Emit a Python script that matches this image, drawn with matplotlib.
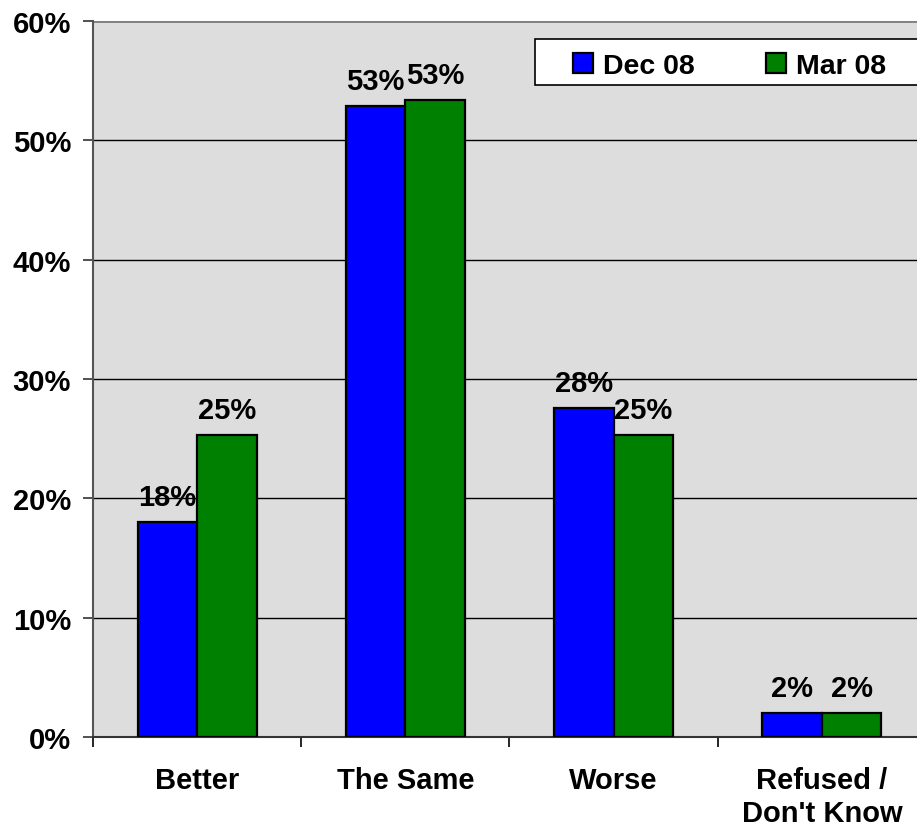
import matplotlib
matplotlib.use("Agg")
import matplotlib.pyplot as plt
from matplotlib.patches import Rectangle
import numpy as np

categories = ["Better", "The Same", "Worse", "Refused /\nDon't Know"]
dec08 = [18.0, 52.9, 27.6, 2.0]
mar08 = [25.3, 53.4, 25.3, 2.0]
series_names = ["Dec 08", "Mar 08"]
yticks = [0, 10, 20, 30, 40, 50, 60]

plt.rcParams['font.family'] = ['Liberation Sans', 'DejaVu Sans']
plt.rcParams['font.weight'] = 'bold'
FS = 21
plt.rcParams['font.size'] = FS

W, H = 917, 829
fig = plt.figure(figsize=(W / 100, H / 100), dpi=100)
fig.patch.set_facecolor('white')
ax = fig.add_axes([93 / W, 1 - 738 / H, 833 / W, (738 - 22) / H])
ax.set_facecolor('#DDDDDD')

x = np.arange(len(categories)) + 0.5
bw = 0.286
b1 = ax.bar(x - bw / 2, dec08, bw, color='#0000FF', edgecolor='black', linewidth=1.6,
            label=series_names[0], zorder=3)
b2 = ax.bar(x + bw / 2, mar08, bw, color='#008000', edgecolor='black', linewidth=1.6,
            label=series_names[1], zorder=3)

for bars, vals in ((b1, dec08), (b2, mar08)):
    for rect, v in zip(bars, vals):
        ax.annotate(f"{v:.0f}%", (rect.get_x() + rect.get_width() / 2, v),
                    xytext=(0, 8), textcoords='offset points',
                    ha='center', va='bottom', fontsize=FS, fontweight='bold', zorder=4)

ax.set_xlim(0, len(categories))
ax.set_ylim(0, 60)
ax.set_yticks(yticks)
ax.set_yticklabels([f"{t}%" for t in yticks])
ax.yaxis.grid(True, color='black', linewidth=1)
ax.set_axisbelow(True)

ax.set_xticks(x)
ax.set_xticklabels(categories, linespacing=1.2)
ax.set_xticks(np.arange(len(categories) + 1), minor=True)
ax.tick_params(axis='x', which='major', length=0, pad=21, labelsize=FS)
ax.tick_params(axis='x', which='minor', length=7.2, width=1.2, direction='out', color='black')
ax.tick_params(axis='y', length=7.2, width=1.2, direction='out', pad=8.6, labelsize=FS, color='#333333')

for s in ('top', 'right'):
    ax.spines[s].set_visible(False)
ax.spines['left'].set_color('#555555')
ax.spines['left'].set_linewidth(1.5)
ax.spines['bottom'].set_color('#333333')
ax.spines['bottom'].set_linewidth(1.5)
ax.axhline(60, color='#808080', linewidth=2, zorder=2)

# legend frame
frame = Rectangle((535 / W, 1 - 86 / H), 420 / W, 46 / H, transform=fig.transFigure,
                  facecolor='white', edgecolor='black', linewidth=1.2, zorder=5)
fig.patches.append(frame)
leg = fig.legend(handles=[b1, b2], loc='center left', bbox_to_anchor=(559 / W, 1 - 67 / H),
                 ncol=2, frameon=False, fontsize=20.5, borderpad=0, handlelength=0.7,
                 handleheight=0.7, handletextpad=0.35, columnspacing=2.5)
leg.set_zorder(6)

fig.savefig("out.png", dpi=100)
